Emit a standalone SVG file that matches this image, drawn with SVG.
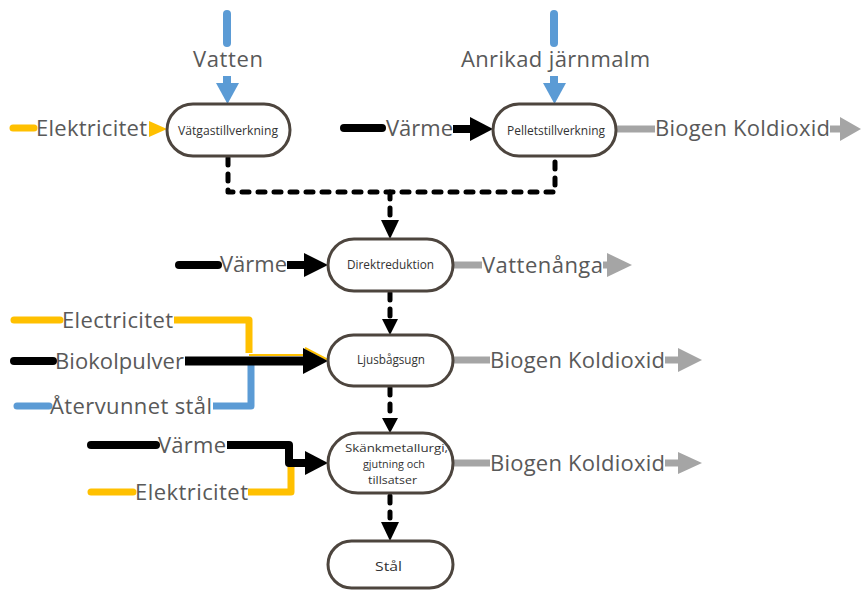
<svg xmlns="http://www.w3.org/2000/svg" width="863" height="590" viewBox="0 0 863 590">
  <style>
    .node rect { fill: #ffffff; stroke: #4d453e; stroke-width: 3; }
    .nt { font-family: "Open Sans", "Liberation Sans", sans-serif; font-size: 12.5px; fill: #333333; }
    .nt2 { font-family: "Open Sans", "Liberation Sans", sans-serif; font-size: 11.5px; fill: #333333; }
    .lbl { font-family: "Open Sans", "Liberation Sans", sans-serif; font-size: 22px; fill: #595959; }
    .ln { fill: none; stroke-linecap: butt; stroke-linejoin: round; }
    .cap { stroke-linecap: round; }
    .blk { stroke: #000000; stroke-width: 8; }
    .yel { stroke: #ffc000; stroke-width: 7; }
    .blu { stroke: #5b9bd5; stroke-width: 7; }
    .gry { stroke: #a5a5a5; stroke-width: 7; }
    .dot { fill: none; stroke: #000000; stroke-width: 5; stroke-dasharray: 7 9; stroke-linecap: round; stroke-linejoin: round; }
    .hb { fill: #000000; }
    .hy { fill: #ffc000; }
    .hbl { fill: #5b9bd5; }
    .hg { fill: #a5a5a5; }
  </style>

  <!-- flows between the process steps and their input/output streams -->
  <g id="connectors">
    <!-- product flow (dotted) -->
    <path class="dot" d="M228,158 V192 H555 V158"/>
    <path class="dot" d="M390,192 V216"/>
    <polygon class="hb" points="381,220 399,220 390,239"/>
    <path class="dot" d="M390,293 V316"/>
    <polygon class="hb" points="382,319 398,319 390,335"/>
    <path class="dot" d="M390,388 V414"/>
    <polygon class="hb" points="382,418 398,418 390,433"/>
    <path class="dot" d="M390,496 V518"/>
    <polygon class="hb" points="381,522 399,522 390,541"/>

    <!-- Vatten -->
    <path class="ln blu cap" d="M227,14 V43" style="stroke-width:8"/>
    <path class="ln blu" d="M227,76 V85" style="stroke-width:8"/>
    <polygon class="hbl" points="216,83 239,83 227.5,104"/>
    <text class="lbl" x="193" y="67" textLength="70" lengthAdjust="spacing">Vatten</text>

    <!-- Anrikad järnmalm -->
    <path class="ln blu cap" d="M554,14 V43" style="stroke-width:8"/>
    <path class="ln blu" d="M554,76 V85" style="stroke-width:8"/>
    <polygon class="hbl" points="543,83 566,83 554.5,104"/>
    <text class="lbl" x="461" y="67" textLength="189" lengthAdjust="spacing">Anrikad järnmalm</text>

    <!-- Elektricitet to Vätgastillverkning -->
    <path class="ln yel cap" d="M13,128 H34"/>
    <text class="lbl" x="36" y="136" textLength="111" lengthAdjust="spacing">Elektricitet</text>
    <polygon class="hy" points="149,121 167,129 149,137"/>

    <!-- Värme to Pelletstillverkning -->
    <path class="ln blk cap" d="M344,128 H382"/>
    <text class="lbl" x="386" y="136" textLength="67" lengthAdjust="spacing">Värme</text>
    <path class="ln blk" d="M453,129 H473"/>
    <polygon class="hb" points="470,117 493,129 470,141"/>

    <!-- Biogen Koldioxid from Pelletstillverkning -->
    <path class="ln gry" d="M616,129 H655"/>
    <text class="lbl" x="655" y="136" textLength="175" lengthAdjust="spacing">Biogen Koldioxid</text>
    <path class="ln gry" d="M830,129 H842"/>
    <polygon class="hg" points="840,117 861,129 840,141"/>

    <!-- Värme to Direktreduktion -->
    <path class="ln blk cap" d="M179,265 H218"/>
    <text class="lbl" x="220" y="272" textLength="67" lengthAdjust="spacing">Värme</text>
    <path class="ln blk" d="M287,265 H307"/>
    <polygon class="hb" points="304,253 328,265 304,277"/>

    <!-- Vattenånga from Direktreduktion -->
    <path class="ln gry" d="M452,265 H482"/>
    <text class="lbl" x="482" y="273" textLength="121" lengthAdjust="spacing">Vattenånga</text>
    <path class="ln gry" d="M603,265 H609"/>
    <polygon class="hg" points="607,253 632,265 607,277"/>

    <!-- Electricitet to Ljusbågsugn -->
    <path class="ln yel cap" d="M14,320 H60"/>
    <text class="lbl" x="62" y="328" textLength="111" lengthAdjust="spacing">Electricitet</text>
    <path class="ln yel" d="M174,320 H249 V353"/>
    <path class="ln" d="M249,355 H305 M305,348 L328,360" style="stroke:#ffc000;stroke-width:2"/>

    <!-- Återvunnet stål to Ljusbågsugn -->
    <path class="ln blu cap" d="M17,406 H49"/>
    <text class="lbl" x="50" y="414" textLength="162" lengthAdjust="spacing">Återvunnet stål</text>
    <path class="ln blu" d="M213,406 H251 V364"/>

    <!-- Biokolpulver to Ljusbågsugn -->
    <path class="ln blk cap" d="M14,361 H53"/>
    <text class="lbl" x="55" y="369" textLength="129" lengthAdjust="spacing">Biokolpulver</text>
    <path class="ln blk" d="M185,361 H306" style="stroke-width:9"/>
    <polygon class="hb" points="303,348 328,361 303,374"/>

    <!-- Biogen Koldioxid from Ljusbågsugn -->
    <path class="ln gry" d="M452,360 H490"/>
    <text class="lbl" x="490" y="368" textLength="175" lengthAdjust="spacing">Biogen Koldioxid</text>
    <path class="ln gry" d="M665,360 H680"/>
    <polygon class="hg" points="678,348 702,360 678,372"/>

    <!-- Elektricitet to Skänkmetallurgi -->
    <path class="ln yel cap" d="M91,492 H133"/>
    <text class="lbl" x="135" y="500" textLength="113" lengthAdjust="spacing">Elektricitet</text>
    <path class="ln yel" d="M248,492 H291 V466"/>

    <!-- Värme to Skänkmetallurgi -->
    <path class="ln blk cap" d="M91,445 H156"/>
    <text class="lbl" x="158" y="453" textLength="68" lengthAdjust="spacing">Värme</text>
    <path class="ln blk" d="M227,445 H289 V463 H307"/>
    <polygon class="hb" points="305,451 328,463 305,475"/>

    <!-- Biogen Koldioxid from Skänkmetallurgi -->
    <path class="ln gry" d="M453,463 H490"/>
    <text class="lbl" x="490" y="471" textLength="175" lengthAdjust="spacing">Biogen Koldioxid</text>
    <path class="ln gry" d="M665,463 H680"/>
    <polygon class="hg" points="678,452 702,463 678,474"/>
  </g>

  <!-- process steps -->
  <g id="vatgastillverkning" class="node">
    <rect x="167" y="104" width="123" height="52" rx="26"/>
    <text class="nt" x="178" y="135" textLength="100" lengthAdjust="spacingAndGlyphs">Vätgastillverkning</text>
  </g>
  <g id="pelletstillverkning" class="node">
    <rect x="493" y="104" width="123" height="52" rx="26"/>
    <text class="nt" x="507" y="135" textLength="98" lengthAdjust="spacingAndGlyphs">Pelletstillverkning</text>
  </g>
  <g id="direktreduktion" class="node">
    <rect x="328" y="239" width="125" height="52" rx="26"/>
    <text class="nt" x="347" y="269" textLength="87" lengthAdjust="spacingAndGlyphs">Direktreduktion</text>
  </g>
  <g id="ljusbagsugn" class="node">
    <rect x="328" y="335" width="125" height="51" rx="25.5"/>
    <text class="nt" x="357" y="364" textLength="68" lengthAdjust="spacingAndGlyphs">Ljusbågsugn</text>
  </g>
  <g id="skankmetallurgi" class="node">
    <rect x="328" y="433" width="125" height="60" rx="30"/>
    <text class="nt2" x="345" y="452" textLength="103" lengthAdjust="spacingAndGlyphs">Skänkmetallurgi,</text>
    <text class="nt2" x="363" y="468" textLength="62" lengthAdjust="spacingAndGlyphs">gjutning och</text>
    <text class="nt2" x="368" y="484" textLength="49" lengthAdjust="spacingAndGlyphs">tillsatser</text>
  </g>
  <g id="stal" class="node">
    <rect x="328" y="541" width="125" height="47" rx="23.5"/>
    <text class="nt" x="375" y="571" textLength="27" lengthAdjust="spacingAndGlyphs" style="font-size:13.5px">Stål</text>
  </g>
</svg>
